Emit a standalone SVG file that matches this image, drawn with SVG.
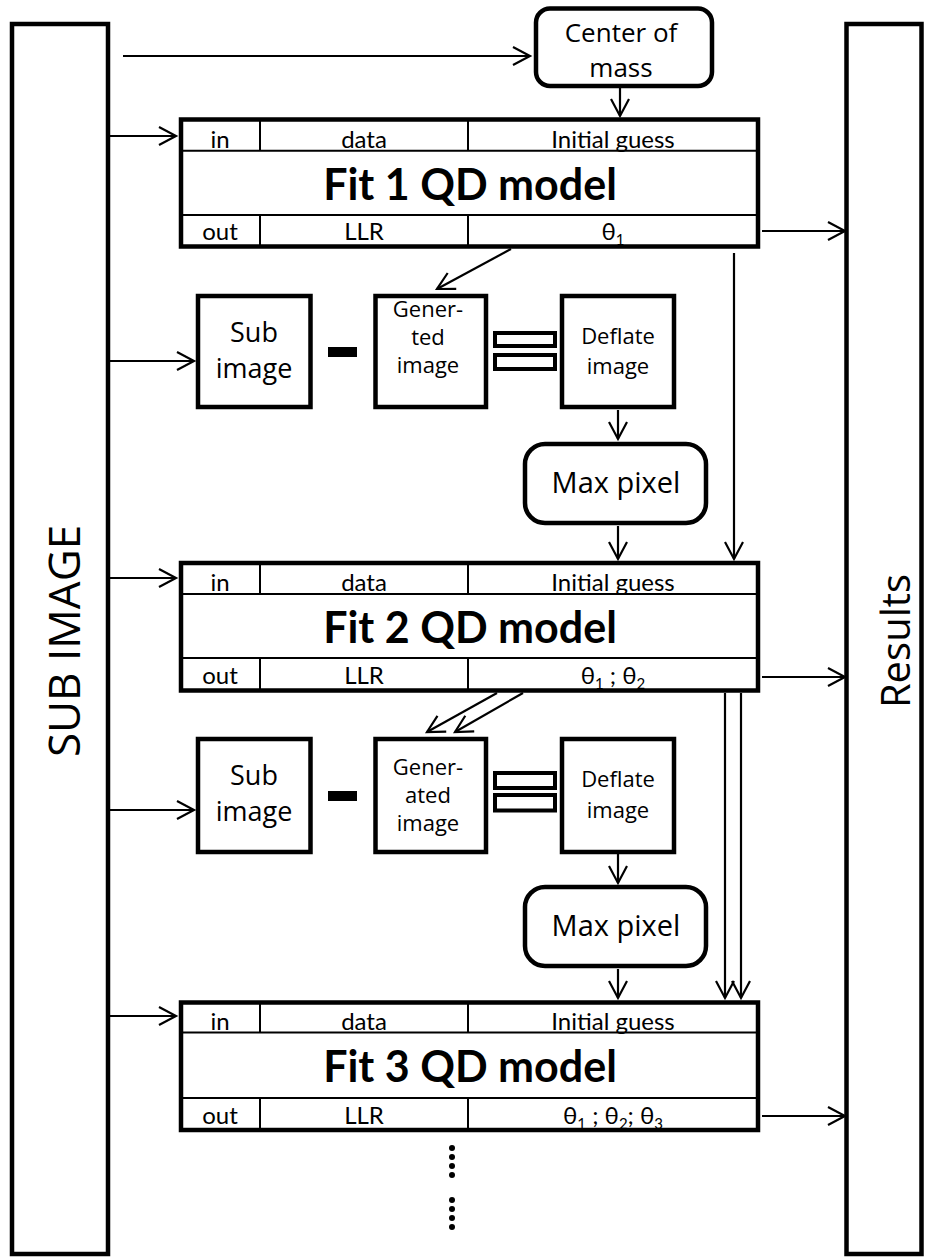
<svg xmlns="http://www.w3.org/2000/svg" width="931" height="1257" viewBox="0 0 931 1257">
<style>
.box{fill:#fff;stroke:#000;stroke-width:4.5}
.thin{stroke:#000;stroke-width:2;fill:none}
.con{stroke:#000;stroke-width:2.2;fill:none}
.cal{font-family:Lato,"Noto Sans",sans-serif;fill:#000;text-anchor:middle}
.seg{font-family:"Open Sans","Noto Sans",sans-serif;fill:#000;text-anchor:middle}
.hdr{font-size:24px}
.ttl{font-size:43px;font-weight:bold}
.sub{font-size:15px}
</style>
<defs>
<marker id="arr" markerUnits="userSpaceOnUse" markerWidth="26" markerHeight="26" viewBox="-22 -13 26 26" refX="0" refY="0" orient="auto" overflow="visible">
<path d="M-17,-9 L0,0 L-17,9" fill="none" stroke="#000" stroke-width="2.2"/>
</marker>
</defs>
<rect width="931" height="1257" fill="#fff"/>

<g id="sub-image-panel">
<rect class="box" x="12" y="24" width="96" height="1230"/>
<text class="seg" font-size="44" transform="translate(80,641) rotate(-90)">SUB IMAGE</text>
</g>
<g id="results-panel">
<rect class="box" x="846.5" y="24" width="75" height="1230"/>
<text class="seg" font-size="40" transform="translate(910,641) rotate(-90)">Results</text>
</g>

<g id="center-of-mass">
<rect class="box" x="536" y="8.5" width="176" height="77.5" rx="14" stroke-width="4"/>
<text class="seg" font-size="26" x="621" y="42">Center of</text>
<text class="seg" font-size="26" x="621" y="77">mass</text>
</g>

<g id="fit1">
<rect class="box" x="181" y="119.5" width="577" height="127"/>
<path class="thin" d="M181,150.7H758M181,215H758M260,119.5V150.7M468,119.5V150.7M260,215V246.5M468,215V246.5"/>
<text class="cal hdr" x="220" y="148">in</text>
<text class="cal hdr" x="364" y="148">data</text>
<text class="cal hdr" x="613" y="148">Initial guess</text>
<text class="cal ttl" x="470" y="199.5">Fit 1 QD model</text>
<text class="cal hdr" x="220" y="240">out</text>
<text class="cal hdr" x="364" y="240">LLR</text>
<text class="cal hdr" x="613" y="240">θ<tspan class="sub" dy="5">1</tspan></text>
</g>

<g id="sub-image-1">
<rect class="box" x="198" y="296" width="112.5" height="111"/>
<text class="seg" font-size="27" x="254" y="342">Sub</text>
<text class="seg" font-size="27" x="254" y="378">image</text>
</g>
<g id="minus-1"><rect x="328" y="347" width="29" height="10" fill="#000"/></g>
<g id="generated-image-1">
<rect class="box" x="375.5" y="296" width="110.5" height="111"/>
<text class="seg" font-size="22" x="428" y="317">Gener-</text>
<text class="seg" font-size="22" x="428" y="345">ted</text>
<text class="seg" font-size="22" x="428" y="373">image</text>
</g>
<g id="equals-1">
<rect x="495" y="333" width="60" height="13" fill="#fff" stroke="#000" stroke-width="4"/>
<rect x="495" y="355" width="60" height="14" fill="#fff" stroke="#000" stroke-width="4"/>
</g>
<g id="deflate-image-1">
<rect class="box" x="562" y="296" width="112" height="111"/>
<text class="seg" font-size="22" x="618" y="344">Deflate</text>
<text class="seg" font-size="22" x="618" y="374">image</text>
</g>
<g id="max-pixel-1">
<rect class="box" x="525" y="444" width="181" height="79" rx="20" stroke-width="4"/>
<text class="seg" font-size="29" x="616" y="493">Max pixel</text>
</g>

<g id="fit2">
<rect class="box" x="181" y="563" width="577" height="127.5"/>
<path class="thin" d="M181,594H758M181,658H758M260,563V594M468,563V594M260,658V690.5M468,658V690.5"/>
<text class="cal hdr" x="220" y="591">in</text>
<text class="cal hdr" x="364" y="591">data</text>
<text class="cal hdr" x="613" y="591">Initial guess</text>
<text class="cal ttl" x="470" y="643">Fit 2 QD model</text>
<text class="cal hdr" x="220" y="684">out</text>
<text class="cal hdr" x="364" y="684">LLR</text>
<text class="cal hdr" x="613" y="684">θ<tspan class="sub" dy="5">1</tspan><tspan dy="-5"> ; θ</tspan><tspan class="sub" dy="5">2</tspan></text>
</g>

<g id="sub-image-2">
<rect class="box" x="198" y="739" width="112.5" height="113"/>
<text class="seg" font-size="27" x="254" y="785">Sub</text>
<text class="seg" font-size="27" x="254" y="821">image</text>
</g>
<g id="minus-2"><rect x="328" y="791" width="29" height="10" fill="#000"/></g>
<g id="generated-image-2">
<rect class="box" x="375.5" y="739" width="110.5" height="113"/>
<text class="seg" font-size="22" x="428" y="775">Gener-</text>
<text class="seg" font-size="22" x="428" y="803">ated</text>
<text class="seg" font-size="22" x="428" y="831">image</text>
</g>
<g id="equals-2">
<rect x="495" y="773" width="60" height="15" fill="#fff" stroke="#000" stroke-width="4"/>
<rect x="495" y="795" width="60" height="15.5" fill="#fff" stroke="#000" stroke-width="4"/>
</g>
<g id="deflate-image-2">
<rect class="box" x="562" y="739" width="112" height="113"/>
<text class="seg" font-size="22" x="618" y="787">Deflate</text>
<text class="seg" font-size="22" x="618" y="818">image</text>
</g>
<g id="max-pixel-2">
<rect class="box" x="525" y="887" width="181" height="79" rx="20" stroke-width="4"/>
<text class="seg" font-size="29" x="616" y="936">Max pixel</text>
</g>

<g id="fit3">
<rect class="box" x="181" y="1002.5" width="577" height="127.5"/>
<path class="thin" d="M181,1032.5H758M181,1098H758M260,1002.5V1032.5M468,1002.5V1032.5M260,1098V1130M468,1098V1130"/>
<text class="cal hdr" x="220" y="1029.5">in</text>
<text class="cal hdr" x="364" y="1029.5">data</text>
<text class="cal hdr" x="613" y="1029.5">Initial guess</text>
<text class="cal ttl" x="470" y="1081.5">Fit 3 QD model</text>
<text class="cal hdr" x="220" y="1124">out</text>
<text class="cal hdr" x="364" y="1124">LLR</text>
<text class="cal hdr" x="613" y="1124">θ<tspan class="sub" dy="5">1</tspan><tspan dy="-5"> ; θ</tspan><tspan class="sub" dy="5">2</tspan><tspan dy="-5">; θ</tspan><tspan class="sub" dy="5">3</tspan></text>
</g>

<g id="ellipsis">
<circle cx="452" cy="1148" r="3"/><circle cx="452" cy="1157" r="3"/><circle cx="452" cy="1166" r="3"/><circle cx="452" cy="1175" r="3"/>
<circle cx="452" cy="1200" r="3"/><circle cx="452" cy="1209" r="3"/><circle cx="452" cy="1218" r="3"/><circle cx="452" cy="1227" r="3"/>
</g>

<g id="connectors" class="con" marker-end="url(#arr)">
<path d="M123,56H530"/>
<path d="M620,88V116"/>
<path d="M110,136H176"/>
<path d="M762,231H845"/>
<path d="M511,249L437,289"/>
<path d="M110,361H194"/>
<path d="M734,253V559"/>
<path d="M618,410V439"/>
<path d="M618,526V559"/>
<path d="M110,578H176"/>
<path d="M762,677H845"/>
<path d="M497,693L427,732"/>
<path d="M523,693L455,732"/>
<path d="M110,810H194"/>
<path d="M618,854V883"/>
<path d="M618,969V998"/>
<path d="M725,693V998"/>
<path d="M741,693V998"/>
<path d="M110,1016H176"/>
<path d="M762,1116H845"/>
</g>
</svg>
